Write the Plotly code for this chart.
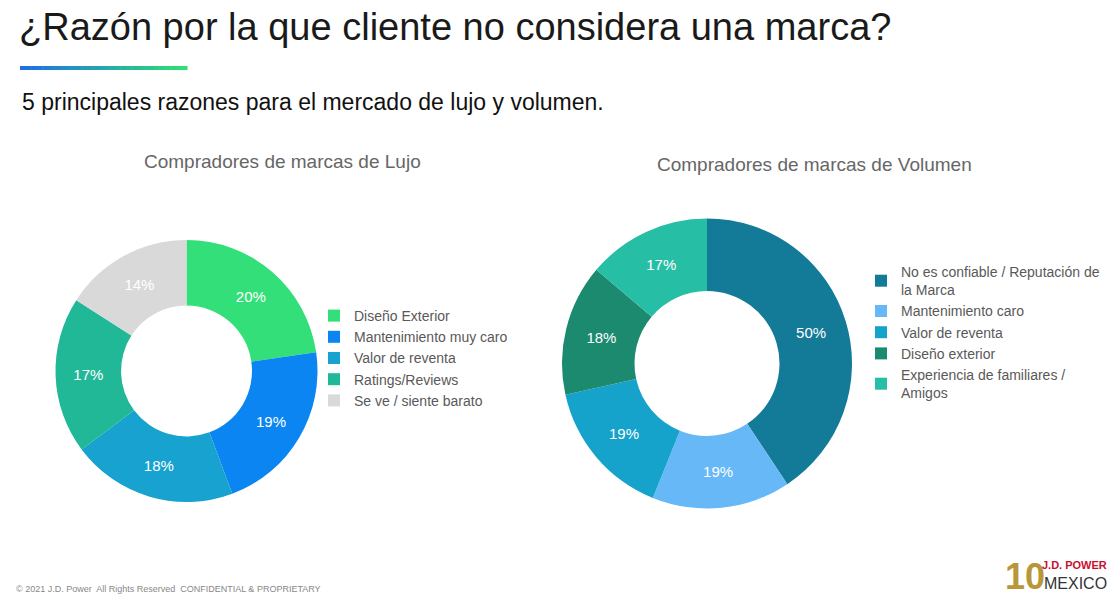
import plotly.graph_objects as go

lujo_labels = ["Diseño Exterior", "Mantenimiento muy caro", "Valor de reventa", "Ratings/Reviews", "Se ve / siente barato"]
lujo_values = [20, 19, 18, 17, 14]
lujo_colors = ["#33df78", "#0b85f2", "#17a2cf", "#21b898", "#d9d9d9"]

# trailing spaces keep these legend entries separate from the left chart's
vol_labels = ["No es confiable / Reputación de<br>la Marca", "Mantenimiento caro", "Valor de reventa ",
              "Diseño exterior", "Experiencia de familiares /<br>Amigos"]
vol_values = [50, 19, 19, 18, 17]
vol_colors = ["#137a98", "#66b9f6", "#16a3cb", "#1c8a6e", "#27bea6"]

W, H = 1101, 588  # page has 8px body margin
OFF = 8

def px(x):
    return (x - OFF) / W

def py(y):
    return 1 - (y - OFF) / H

fig = go.Figure()
fig.add_trace(go.Pie(labels=lujo_labels, values=lujo_values, text=[f"{v}%" for v in lujo_values],
                     textinfo="text", hole=0.5, sort=False, direction="clockwise", rotation=0,
                     marker=dict(colors=lujo_colors), textfont=dict(color="white", size=15),
                     domain=dict(x=[px(55), px(318)], y=[py(502), py(240)]), legend="legend",
                     hoverinfo="label+text"))
fig.add_trace(go.Pie(labels=vol_labels, values=vol_values, text=[f"{v}%" for v in vol_values],
                     textinfo="text", hole=0.5, sort=False, direction="clockwise", rotation=0,
                     marker=dict(colors=vol_colors), textfont=dict(color="white", size=15),
                     domain=dict(x=[px(562), px(852)], y=[py(509), py(218)]), legend="legend2",
                     hoverinfo="label+text"))

# gradient bar under title
n = 30
shapes = []
for i in range(n):
    t = i / (n - 1)
    c1, c2 = (0x1e, 0x6f, 0xe6), (0x2e, 0xe0, 0x70)
    col = "rgb(%d,%d,%d)" % tuple(int(a + (b - a) * t) for a, b in zip(c1, c2))
    x0 = 20 + (187 - 20) * i / n
    x1 = 20 + (187 - 20) * (i + 1) / n + 0.5
    shapes.append(dict(type="rect", xref="paper", yref="paper", x0=px(x0), x1=px(x1),
                       y0=py(70), y1=py(66), fillcolor=col, line=dict(width=0)))

def ann(text, x, y, size, color, xanchor="left", family="Liberation Sans"):
    return dict(text=text, x=px(x), y=py(y), xref="paper", yref="paper", showarrow=False,
                xanchor=xanchor, yanchor="middle", font=dict(size=size, color=color, family=family))

annotations = [
    ann("¿Razón por la que cliente no considera una marca?", 17, 27, 38, "#1a1a1a"),
    ann("5 principales razones para el mercado de lujo y volumen.", 20, 102, 23, "#111111"),
    ann("Compradores de marcas de Lujo", 282, 162, 19, "#666666", "center"),
    ann("Compradores de marcas de Volumen", 814, 164, 19, "#666666", "center"),
    ann("© 2021 J.D. Power  All Rights Reserved  CONFIDENTIAL & PROPRIETARY", 14, 589, 9, "#888888"),
    ann("<b>10</b>", 1047, 576, 36, "#b8963a", "right"),
    ann("<b>J.D. POWER</b>", 1109, 565, 11, "#c8102e", "right"),
    ann("MEXICO", 1109, 583, 16, "#333333", "right"),
]

fig.update_layout(
    width=W, height=H, margin=dict(l=0, r=0, t=0, b=0),
    paper_bgcolor="white", plot_bgcolor="white",
    font=dict(family="Liberation Sans", color="#595959"),
    shapes=shapes, annotations=annotations,
    legend=dict(x=px(314), y=py(300), xanchor="left", yanchor="top", bgcolor="rgba(0,0,0,0)",
                font=dict(size=14, color="#595959"), tracegroupgap=0, itemwidth=30),
    legend2=dict(x=px(861), y=py(256), xanchor="left", yanchor="top", bgcolor="rgba(0,0,0,0)",
                 font=dict(size=14, color="#595959"), tracegroupgap=0, itemwidth=30),
)
fig.write_html("out.html")
